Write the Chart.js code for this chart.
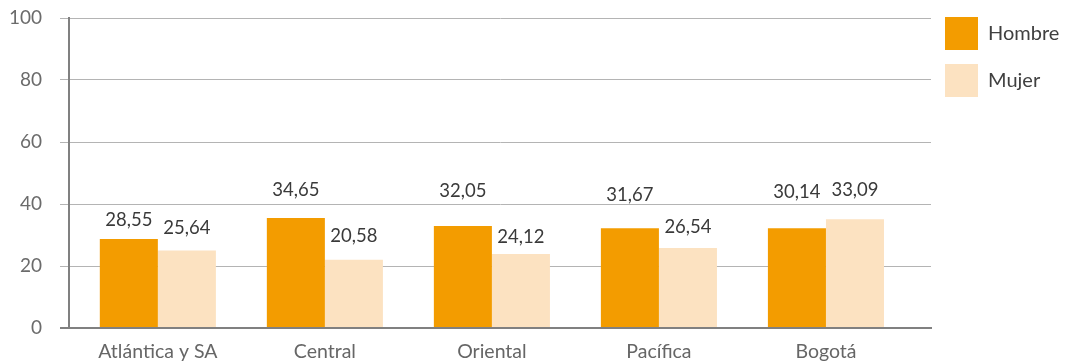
<!DOCTYPE html>
<html>
<head>
<meta charset="utf-8">
<script src="https://cdn.jsdelivr.net/npm/chart.js@4/dist/chart.umd.min.js"></script>
<style>
html, body { margin: 0; padding: 0; background: #fff; }
#wrap { position: relative; width: 1066px; height: 361px; }
</style>
</head>
<body>
<div id="wrap"><canvas id="chart"></canvas></div>
<script>
// datos
const regiones = ['Atlántica y SA', 'Central', 'Oriental', 'Pacífica', 'Bogotá'];
const hombre = [28.7, 35.5, 32.9, 32.2, 32.2];
const mujer = [25.0, 22.0, 23.9, 25.8, 35.1];
const textoHombre = ['28,55', '34,65', '32,05', '31,67', '30,14'];
const textoMujer = ['25,64', '20,58', '24,12', '26,54', '33,09'];
const marcasY = [0, 20, 40, 60, 80, 100];

const naranja = '#F39C00';
const crema = '#FCE2C1';
const gris = '#808080';

Chart.defaults.font.family = 'Lato';

// etiquetas encima de las barras
const etiquetasValor = {
	id: 'etiquetasValor',
	afterDatasetsDraw(chart, args, opts) {
		const ctx = chart.ctx;
		ctx.save();
		ctx.font = '18.5px Lato';
		ctx.fillStyle = '#3a3a3a';
		ctx.textAlign = 'center';
		ctx.textBaseline = 'middle';
		chart.data.datasets.forEach((ds, d) => {
			chart.getDatasetMeta(d).data.forEach((bar, i) => {
				ctx.fillText(opts.textos[d][i], bar.x, bar.y - opts.alturas[d][i]);
			});
		});
		ctx.restore();
	}
};

const ctx = document.getElementById('chart').getContext('2d');
const grafico = new Chart(ctx, {
	type: 'bar',
	data: {
		datasets: [
			{
				label: 'Hombre',
				data: hombre.map((v, i) => ({ x: i, y: v })),
				backgroundColor: naranja,
				borderWidth: 0,
				categoryPercentage: 0.695,
				barPercentage: 1
			},
			{
				label: 'Mujer',
				data: mujer.map((v, i) => ({ x: i, y: v })),
				backgroundColor: crema,
				borderWidth: 0,
				categoryPercentage: 0.695,
				barPercentage: 1
			}
		]
	},
	options: {
		responsive: true,
		maintainAspectRatio: false,
		animation: false,
		layout: { padding: { top: 3, left: 0, right: 0, bottom: 0 } },
		scales: {
			x: {
				type: 'linear',
				bounds: 'data',
				offset: false,
				min: -0.532,
				max: 4.629,
				afterBuildTicks: (s) => { s.ticks = regiones.map((r, i) => ({ value: i })); },
				afterFit: (s) => { s.height = 33; },
				grid: { display: false, drawTicks: false, offset: false },
				border: { display: true, color: gris, width: 2 },
				ticks: {
					autoSkip: false,
					maxRotation: 0,
					padding: 12,
					color: '#666',
					font: { size: 19.5 },
					callback: (v) => regiones[v]
				}
			},
			y: {
				min: 0,
				max: 100,
				afterBuildTicks: (s) => { s.ticks = marcasY.map(v => ({ value: v })); },
				afterFit: (s) => { s.width = 69; },
				grid: {
					color: (c) => c.tick && c.tick.value === 0 ? gris : '#b4b4b4',
					lineWidth: (c) => c.tick && c.tick.value === 0 ? 2 : 1,
					tickLength: 9
				},
				border: { display: true, color: gris, width: 2 },
				ticks: {
					padding: 18,
					color: '#6b6b6b',
					font: { size: 19, lineHeight: 0 }
				}
			}
		},
		plugins: {
			legend: {
				position: 'right',
				align: 'start',
				maxWidth: 135,
				labels: {
					boxWidth: 33,
					boxHeight: 33,
					padding: 14,
					color: '#404040',
					font: { size: 20 }
				}
			},
			tooltip: { enabled: false },
			etiquetasValor: {
				textos: [textoHombre, textoMujer],
				alturas: [[19, 27.5, 35, 33, 36.5], [22.7, 24, 17, 21.3, 29]]
			}
		}
	},
	plugins: [etiquetasValor]
});
</script>
</body>
</html>
